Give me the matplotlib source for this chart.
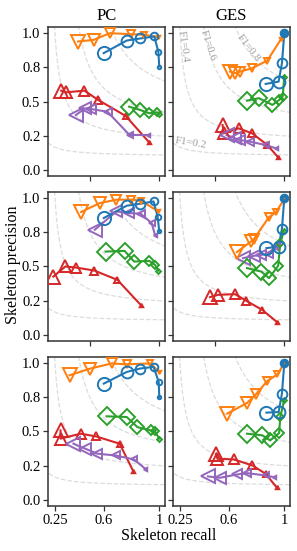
import matplotlib
matplotlib.use("Agg")
import matplotlib.pyplot as plt
import numpy as np

plt.rcParams['font.family'] = ['Liberation Serif', 'DejaVu Serif']

# series style: colour and marker
colors = {'blue': '#1f77b4', 'orange': '#ff7f0e', 'green': '#2ca02c',
          'red': '#d62728', 'purple': '#9467bd'}
markers = {'blue': 'o', 'orange': 'v', 'green': 'D', 'red': '^', 'purple': '<'}
order = ['red', 'purple', 'green', 'orange', 'blue']

# (recall, precision) per series, per panel
pc_row1 = {
    'blue': ([0.60, 0.766, 0.862, 0.964, 0.993, 1.0], [0.854, 0.946, 0.961, 0.976, 0.866, 0.756]),
    'orange': ([0.416, 0.529, 0.645, 0.80, 0.887, 0.988], [0.939, 0.951, 1.0, 0.992, 0.989, 0.971]),
    'green': ([0.783, 0.862, 0.928, 0.983, 0.996], [0.463, 0.439, 0.415, 0.422, 0.41]),
    'red': ([0.295, 0.331, 0.462, 0.561, 0.759, 0.923], [0.58, 0.568, 0.58, 0.512, 0.395, 0.207]),
    'purple': ([0.40, 0.468, 0.507, 0.628, 0.786, 0.919], [0.402, 0.451, 0.446, 0.426, 0.256, 0.256]),
}
ges_row1 = {
    'blue': ([0.866, 0.959, 0.983, 1.0, 1.0, 1.0], [0.629, 0.646, 0.78, 1.0, 1.0, 1.0]),
    'orange': ([0.61, 0.646, 0.683, 0.769, 0.878, 0.976], [0.719, 0.707, 0.719, 0.744, 0.80, 0.956]),
    'green': ([0.732, 0.817, 0.915, 0.963, 0.988, 1.0], [0.507, 0.525, 0.476, 0.512, 0.536, 0.683]),
    'red': ([0.556, 0.566, 0.671, 0.769, 0.878, 0.956], [0.329, 0.268, 0.305, 0.268, 0.183, 0.093]),
    'purple': ([0.585, 0.646, 0.683, 0.756, 0.866, 0.939], [0.256, 0.232, 0.219, 0.207, 0.183, 0.159]),
}
pc_row2 = {
    'blue': ([0.601, 0.766, 0.862, 0.959, 0.988, 1.0], [0.854, 0.944, 0.958, 0.975, 0.865, 0.756]),
    'orange': ([0.438, 0.572, 0.691, 0.80, 0.867, 0.993], [0.898, 0.963, 0.988, 0.988, 0.982, 0.902]),
    'green': ([0.614, 0.751, 0.819, 0.928, 0.969, 0.993], [0.609, 0.614, 0.536, 0.541, 0.512, 0.470]),
    'red': ([0.238, 0.325, 0.403, 0.534, 0.699, 0.867], [0.426, 0.50, 0.492, 0.47, 0.402, 0.219]),
    'purple': ([0.536, 0.691, 0.783, 0.867, 0.945, 0.969], [0.768, 0.902, 0.89, 0.885, 0.817, 0.732]),
}
ges_row2 = {
    'blue': ([0.871, 0.959, 0.983, 1.0, 1.0, 1.0], [0.634, 0.646, 0.775, 1.0, 1.0, 1.0]),
    'orange': ([0.659, 0.761, 0.781, 0.89, 0.939, 1.0], [0.605, 0.683, 0.70, 0.861, 0.895, 0.993]),
    'green': ([0.732, 0.834, 0.89, 0.956, 0.971, 0.996], [0.488, 0.463, 0.415, 0.505, 0.671, 0.756]),
    'red': ([0.466, 0.524, 0.646, 0.724, 0.841, 0.944], [0.276, 0.293, 0.298, 0.251, 0.183, 0.097]),
    'purple': ([0.703, 0.781, 0.834, 0.89, 0.932, 0.952], [0.561, 0.578, 0.585, 0.593, 0.646, 0.675]),
}
pc_row3 = {
    'blue': ([0.601, 0.766, 0.862, 0.959, 0.996, 1.0], [0.849, 0.934, 0.959, 0.971, 0.861, 0.751]),
    'orange': ([0.355, 0.505, 0.657, 0.766, 0.935, 1.0], [0.91, 0.959, 0.996, 0.99, 0.996, 0.934]),
    'green': ([0.621, 0.766, 0.843, 0.94, 0.969, 1.0], [0.61, 0.605, 0.531, 0.507, 0.50, 0.447]),
    'red': ([0.29, 0.29, 0.435, 0.546, 0.715, 0.814], [0.507, 0.447, 0.483, 0.463, 0.41, 0.207]),
    'purple': ([0.383, 0.469, 0.554, 0.686, 0.819, 0.899], [0.41, 0.373, 0.337, 0.324, 0.295, 0.227]),
}
ges_row3 = {
    'blue': ([0.871, 0.959, 0.983, 1.0, 1.0, 1.0], [0.637, 0.641, 0.776, 1.0, 1.0, 1.0]),
    'orange': ([0.59, 0.732, 0.80, 0.878, 0.951, 1.0], [0.63, 0.707, 0.776, 0.868, 0.917, 1.0]),
    'green': ([0.732, 0.842, 0.898, 0.963, 0.971, 1.0], [0.483, 0.471, 0.434, 0.488, 0.605, 0.732]),
    'red': ([0.51, 0.519, 0.637, 0.771, 0.866, 0.944], [0.337, 0.30, 0.295, 0.251, 0.19, 0.092]),
    'purple': ([0.451, 0.537, 0.659, 0.732, 0.866, 0.927], [0.171, 0.161, 0.185, 0.195, 0.178, 0.165]),
}
panels = [[pc_row1, ges_row1], [pc_row2, ges_row2], [pc_row3, ges_row3]]

col_titles = ['PC', 'GES']
f1_levels = [0.2, 0.4, 0.6, 0.8]
yticks = [0.0, 0.25, 0.5, 0.75, 1.0]
ytick_labels = ['0.0', '0.2', '0.5', '0.8', '1.0']
xticks_bottom = [0.25, 0.6, 1.0]
xtick_labels_bottom = ['0.25', '0.6', '1']

marker_sizes = [9.5, 8.5, 7, 5.5, 4, 2.5]


def draw_f1(ax):
    for f in f1_levels:
        r = np.linspace(f / 2 + 1e-3, 1.1, 400)
        p = f * r / (2 * r - f)
        ax.plot(r, p, ls='--', color='#dcdcdc', lw=0.9, zorder=0)


fig, axes = plt.subplots(3, 2, figsize=(2.97, 5.51), dpi=100)
fig.subplots_adjust(left=0.1616, right=0.976, bottom=0.0817, top=0.951,
                    wspace=0.07, hspace=0.105)

for i in range(3):
    for j in range(2):
        ax = axes[i, j]
        draw_f1(ax)
        data = panels[i][j]
        for name in order:
            rec, prec = data[name]
            c = colors[name]
            ax.plot(rec, prec, color=c, lw=1.5, zorder=2)
            ms = marker_sizes[-len(rec):] if len(rec) < 6 else marker_sizes
            for k in range(len(rec)):
                ax.plot(rec[k], prec[k], marker=markers[name], ms=ms[k],
                        mfc='none', mec=c, mew=1.4, zorder=3)
        ax.set_xlim(0.2, 1.04)
        ax.set_ylim(-0.045, 1.045)
        ax.set_yticks(yticks)
        if j == 0:
            ax.set_yticklabels(ytick_labels)
        else:
            ax.set_yticklabels([])
        if i == 2:
            ax.set_xticks(xticks_bottom)
            ax.set_xticklabels(xtick_labels_bottom)
        else:
            ax.set_xticks([0.5, 1.0])
            ax.set_xticklabels([])
        ax.tick_params(labelsize=10.5, length=3.5, width=0.9, pad=2, color='#333333')
        for s in ax.spines.values():
            s.set_color('#333333')
            s.set_linewidth(1.1)
        if i == 0:
            ax.set_title(col_titles[j], fontsize=12, pad=5)

# F1 annotations in the top-right panel
ax = axes[0, 1]
f1_text = [('F1=0.4', 0.275, 0.90, -82), ('F1=0.6', 0.455, 0.91, -72),
           ('F1=0.8', 0.74, 0.89, -52), ('F1=0.2', 0.33, 0.195, -9)]
for t, x, y, rot in f1_text:
    ax.text(x, y, t, fontsize=8, color='#a0a0a0', rotation=rot,
            ha='center', va='center', zorder=1)

fig.text(0.045, 0.52, 'Skeleton precision', rotation=90, ha='center',
         va='center', fontsize=11.5)
fig.text(0.568, 0.012, 'Skeleton recall', ha='center', va='bottom',
         fontsize=11.5)

fig.savefig('out.png', dpi=100)
